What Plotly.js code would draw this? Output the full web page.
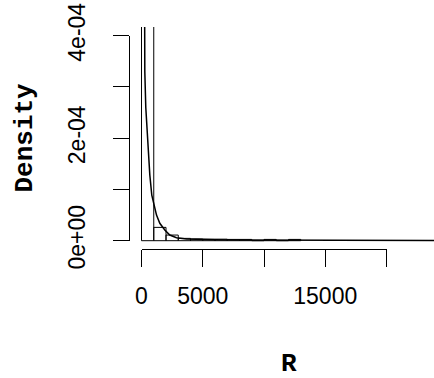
<!DOCTYPE html>
<html>
<head>
<meta charset="utf-8">
<script src="https://cdn.plot.ly/plotly-3.0.1.min.js"></script>
<style>html,body{margin:0;padding:0;background:#fff;}#chart{width:434px;height:378px;}</style>
</head>
<body>
<div id="chart"></div>
<script>
// ---- data ----
const histBreaks = [0, 1000, 2000, 3000, 4000, 5000, 6000, 7000, 8000, 9000, 10000, 11000, 12000, 13000];
const histDensity = [9.3e-4, 2.6e-5, 1.1e-5, 4.5e-6, 3.5e-6, 3.0e-6, 3.0e-6, 2.5e-6, 2.5e-6, 0, 2.5e-6, 0, 2.5e-6];
const densX = [0, 100, 200, 250, 270, 350, 490, 580, 680, 840, 1045, 1225, 1494, 1902, 2310, 2857, 3673, 4500, 6000, 8000, 10000, 11000, 12500, 14000, 16000, 20000, 26000];
const densY = [2.5e-3, 1.6e-3, 8e-4, 5e-4, 3.3e-4, 2.6e-4, 1.96e-4, 1.6e-4, 1.28e-4, 8.9e-5, 7.0e-5, 5.0e-5, 3.4e-5, 2.1e-5, 1.1e-5, 5.9e-6, 3.3e-6, 2.5e-6, 2.0e-6, 1.5e-6, 1.2e-6, 1.0e-6, 8e-7, 4e-7, 1e-7, 0, 0];
const xTickVals = [0, 5000, 10000, 15000, 20000];
const xTickText = ['0', '5000', '', '15000', ''];
const yTickVals = [0, 1e-4, 2e-4, 3e-4, 4e-4];
const yTickText = ['0e+00', '', '2e-04', '', '4e-04'];
const xTitle = 'R';
const yTitle = 'Density';

// ---- layout geometry ----
const W = 434, H = 378;
const mL = 129, mR = 0, mT = 27, mB = 129;
const plotW = W - mL - mR, plotH = H - mT - mB;
const xPxPerUnit = 245 / 20000;       // 0 -> 20000 spans 245 px
const yPxPerUnit = 205 / 4e-4;        // 0 -> 4e-4 spans 205 px
const xLo = -12.5 / xPxPerUnit, xHi = xLo + plotW / xPxPerUnit;
const yLo = -8.3 / yPxPerUnit, yHi = yLo + plotH / yPxPerUnit;
const xAxisLo = xTickVals[0], xAxisHi = xTickVals[xTickVals.length - 1];
const yAxisLo = yTickVals[0], yAxisHi = yTickVals[yTickVals.length - 1];

const centers = histDensity.map((_, i) => (histBreaks[i] + histBreaks[i + 1]) / 2);
const widths = histDensity.map((_, i) => histBreaks[i + 1] - histBreaks[i]);

const tickFont = {family: 'Liberation Sans, Arial, sans-serif', size: 23, color: '#000'};
const titleFont = {family: 'Liberation Mono, Courier New, monospace', size: 26, color: '#000', weight: 'bold'};

const traces = [
  {type: 'bar', x: centers, y: histDensity, width: widths,
   marker: {color: 'rgba(0,0,0,0)', line: {color: '#000', width: 1}},
   xaxis: 'x', yaxis: 'y', hoverinfo: 'skip', showlegend: false},
  {type: 'scatter', mode: 'lines', x: densX, y: densY,
   line: {color: '#000', width: 1.5}, xaxis: 'x', yaxis: 'y', hoverinfo: 'skip', showlegend: false},
  {type: 'scatter', mode: 'lines', x: [], y: [], xaxis: 'x2', yaxis: 'y2', hoverinfo: 'skip', showlegend: false}
];

const layout = {
  width: W, height: H,
  margin: {l: mL, r: mR, t: mT, b: mB, pad: 0},
  paper_bgcolor: '#fff', plot_bgcolor: 'rgba(0,0,0,0)',
  showlegend: false,
  bargap: 0,
  xaxis: {range: [xLo, xHi], visible: false, domain: [0, 1], fixedrange: true},
  yaxis: {range: [yLo, yHi], visible: false, domain: [0, 1], fixedrange: true},
  xaxis2: {
    range: [xAxisLo, xAxisHi],
    domain: [(xAxisLo - xLo) / (xHi - xLo), (xAxisHi - xLo) / (xHi - xLo)],
    anchor: 'free', position: 0,
    showline: true, linecolor: '#000', linewidth: 1,
    ticks: 'outside', ticklen: 17, tickwidth: 1, tickcolor: '#000',
    tickmode: 'array', tickvals: xTickVals, ticktext: xTickText,
    tickfont: tickFont, ticklabelstandoff: 9,
    showgrid: false, zeroline: false, fixedrange: true
  },
  yaxis2: {
    range: [yAxisLo, yAxisHi],
    domain: [(yAxisLo - yLo) / (yHi - yLo), (yAxisHi - yLo) / (yHi - yLo)],
    anchor: 'free', position: 0,
    showline: true, linecolor: '#000', linewidth: 1,
    ticks: 'outside', ticklen: 16, tickwidth: 1, tickcolor: '#000',
    tickmode: 'array', tickvals: yTickVals, ticktext: yTickText, tickangle: -90,
    tickfont: tickFont, ticklabelstandoff: 19,
    showgrid: false, zeroline: false, fixedrange: true
  },
  annotations: [
    {text: yTitle, textangle: -90, xref: 'paper', yref: 'paper',
     x: (24 - mL) / plotW, y: (H - mB - 137.5) / plotH, xanchor: 'center', yanchor: 'middle',
     showarrow: false, font: titleFont},
    {text: xTitle, xref: 'paper', yref: 'paper',
     x: (288.5 - mL) / plotW, y: (H - mB - 364) / plotH, xanchor: 'center', yanchor: 'middle',
     showarrow: false, font: titleFont}
  ]
};

Plotly.newPlot('chart', traces, layout, {staticPlot: true, displayModeBar: false});
</script>
</body>
</html>
